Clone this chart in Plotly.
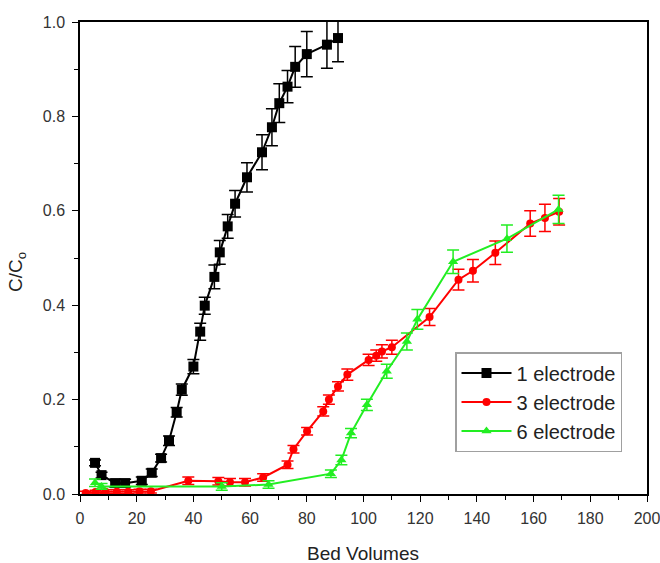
import plotly.graph_objects as go

# 1 electrode
x1 = [5.3, 7.6, 12.4, 15.9, 21.8, 25.3, 28.6, 31.4, 34.1, 35.9, 40.0, 42.4, 44.0,
      47.4, 49.3, 52.1, 54.7, 58.9, 64.2, 67.7, 70.3, 73.2, 75.9, 80.0, 87.1, 91.0]
y1 = [0.066, 0.040, 0.023, 0.023, 0.028, 0.045, 0.076, 0.113, 0.173, 0.221, 0.270,
      0.344, 0.399, 0.460, 0.512, 0.567, 0.615, 0.671, 0.724, 0.777, 0.828, 0.863,
      0.905, 0.932, 0.952, 0.966]
e1 = [0.006, 0.006, 0.008, 0.008, 0.008, 0.008, 0.008, 0.010, 0.010, 0.012, 0.015,
      0.018, 0.018, 0.025, 0.025, 0.025, 0.028, 0.031, 0.037, 0.039, 0.041, 0.034,
      0.043, 0.048, 0.050, 0.050]

# 3 electrode
x3 = [2.0, 5.5, 9.0, 13.0, 17.0, 21.0, 25.0, 38.2, 48.8, 52.9, 58.2, 64.6, 73.2,
      75.3, 80.1, 85.8, 87.8, 91.0, 94.3, 101.8, 104.5, 106.5, 110.0, 123.3, 133.5,
      138.6, 146.5, 158.8, 164.0, 169.0]
y3 = [0.002, 0.004, 0.005, 0.005, 0.005, 0.006, 0.006, 0.028, 0.027, 0.025, 0.025,
      0.035, 0.062, 0.095, 0.133, 0.175, 0.200, 0.228, 0.253, 0.284, 0.293, 0.302,
      0.311, 0.375, 0.454, 0.473, 0.511, 0.573, 0.585, 0.598]
e3 = [0.004, 0.004, 0.004, 0.004, 0.004, 0.004, 0.004, 0.008, 0.008, 0.008, 0.008,
      0.008, 0.008, 0.008, 0.008, 0.010, 0.010, 0.010, 0.012, 0.012, 0.012, 0.014,
      0.015, 0.018, 0.022, 0.024, 0.025, 0.027, 0.029, 0.028]

# 6 electrode
x6 = [5.3, 7.6, 50.0, 66.5, 88.5, 92.2, 95.6, 101.2, 108.2, 115.3, 119.0, 131.6,
      150.6, 168.8]
y6 = [0.024, 0.016, 0.016, 0.020, 0.043, 0.072, 0.129, 0.189, 0.260, 0.323, 0.370,
      0.492, 0.541, 0.603]
e6 = [0.008, 0.006, 0.008, 0.008, 0.008, 0.010, 0.010, 0.012, 0.015, 0.018, 0.021,
      0.025, 0.029, 0.030]

x_ticks = [0, 20, 40, 60, 80, 100, 120, 140, 160, 180, 200]
y_ticks = [0.0, 0.2, 0.4, 0.6, 0.8, 1.0]

FONT = "Liberation Sans, Arial, sans-serif"

fig = go.Figure()


def add(name, xs, ys, es, color, symbol, size):
    fig.add_trace(go.Scatter(
        x=xs, y=ys, name=name, mode="lines+markers",
        line=dict(color=color, width=2),
        marker=dict(color=color, symbol=symbol, size=size),
        error_y=dict(type="data", array=es, visible=True, color=color,
                     thickness=1.5, width=6),
    ))


add("1 electrode", x1, y1, e1, "#000000", "square", 10)
add("3 electrode", x3, y3, e3, "#ff0000", "circle", 8)
add("6 electrode", x6, y6, e6, "#22ee22", "triangle-up", 9)

axis_common = dict(
    showline=True, linecolor="black", linewidth=1.5, mirror=True,
    ticks="outside", ticklen=6, tickwidth=1.2, tickcolor="black",
    showgrid=False, zeroline=False, automargin=False,
    ticklabeloverflow="allow",
    tickfont=dict(family=FONT, size=16, color="#333333"),
)

fig.update_xaxes(
    range=[0, 200], tickvals=x_ticks, ticklabelstandoff=3,
    minor=dict(dtick=10, ticks="outside", ticklen=4, tickcolor="black", tickwidth=1.2),
    **axis_common,
)
fig.update_yaxes(
    range=[0, 1.0], tickvals=y_ticks, tickformat=".1f", ticklabelstandoff=4,
    minor=dict(dtick=0.1, ticks="outside", ticklen=4, tickcolor="black", tickwidth=1.2),
    **axis_common,
)

fig.add_annotation(text="Bed Volumes", xref="paper", yref="paper",
                   x=(363 - 80) / 567, y=-(553 - 494) / 472,
                   xanchor="center", yanchor="middle", showarrow=False,
                   font=dict(family=FONT, size=19, color="#222222"))
fig.add_annotation(text="C/C<sub>o</sub>", xref="paper", yref="paper",
                   x=-(80 - 17) / 567, y=(494 - 272) / 472, textangle=-90,
                   xanchor="center", yanchor="middle", showarrow=False,
                   font=dict(family=FONT, size=19, color="#222222"))

fig.update_layout(
    width=660, height=563,
    margin=dict(l=80, r=13, t=22, b=69),
    paper_bgcolor="white", plot_bgcolor="white",
    showlegend=True,
    legend=dict(
        x=(455 - 80) / 567, y=(494 - 352) / 472, xanchor="left", yanchor="top",
        bgcolor="white", bordercolor="#a0a0a0", borderwidth=1.5,
        font=dict(family=FONT, size=20, color="#222222"),
        itemwidth=50, tracegroupgap=0,
    ),
)

fig.write_html("out.html", post_script="document.body.style.margin='0';",
               config={"displayModeBar": False})
